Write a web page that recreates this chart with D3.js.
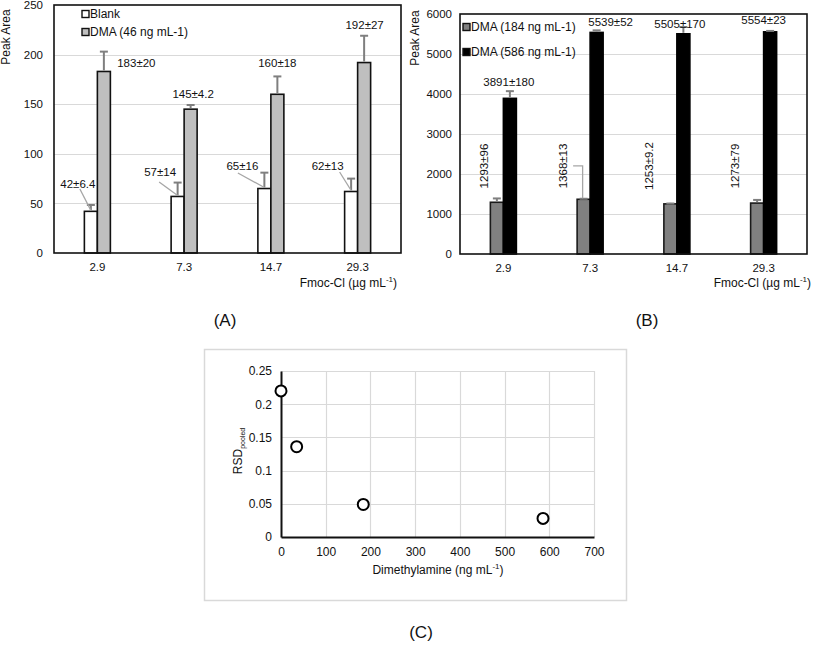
<!DOCTYPE html>
<html><head><meta charset="utf-8">
<script src="https://cdn.jsdelivr.net/npm/d3@7"></script>
<style>
body{margin:0;background:#fff}
svg{display:block}
text{font-family:"Liberation Sans",Arial,Helvetica,sans-serif;fill:#111}
</style>
</head><body>
<svg id="c" width="813" height="645"></svg>
<script>
// ---------------- data ----------------
const categories = ["2.9", "7.3", "14.7", "29.3"];
const blankMean = [42, 57, 65, 62];
const blankErr = [6.4, 14, 16, 13];
const dma46Mean = [183, 145, 160, 192];
const dma46Err = [20, 4.2, 18, 27];
const dma184Mean = [1293, 1368, 1253, 1273];
const dma184Err = [96, 13, 9.2, 79];
const dma586Mean = [3891, 5539, 5505, 5554];
const dma586Err = [180, 52, 170, 23];
const yTicksA = [0, 50, 100, 150, 200, 250];
const yTicksB = [0, 1000, 2000, 3000, 4000, 5000, 6000];
const dmaConc = [0, 35, 184, 586];
const rsdPooled = [0.22, 0.136, 0.049, 0.028];
const xTicksC = [0, 100, 200, 300, 400, 500, 600, 700];
const yTicksC = [0, 0.05, 0.1, 0.15, 0.2, 0.25];
const yTickLabelsC = ["0", "0.05", "0.1", "0.15", "0.2", "0.25"];

// ---------------- layout (label offsets, px) ----------------
const labA = {
  blank: [[-13, -21], [-17.5, -10.6], [-22, -6.6], [-23.5, -12.6]],
  blankLeader: [[2, 5], [-1, 10], [-4.5, 7], [12, 6]],
  dma: [[32.5, 11.4], [2.5, -11], [0, -13], [0.5, -10.7]]
};
const labB = {
  gray: [[-12.5, -32.4], [-20.5, -32.8], [-21.5, -37.5], [-22.5, -33.9]],
  black: [[-1, -8.7], [14, -8.7], [-3.5, -3], [-6.5, -11.4]]
};

const svg = d3.select("#c");
const GRID = "#d9d9d9";
const ERR = "#7f7f7f";

function fmt(m, e) { return m + "\u00b1" + e; }

function barPanel(o) {
  const g = svg.append("g");
  const x = d3.scaleBand().domain(categories).range([o.left, o.right]);
  const y = d3.scaleLinear().domain([0, o.yMax]).range([o.bottom, o.top]);
  const sub = d3.scaleBand().domain(o.series.map((s, i) => i)).range([-o.barW, o.barW]);
  const cx = c => x(c) + x.bandwidth() / 2;

  // grid
  g.selectAll("line.grid").data(o.yTicks.filter(t => t > 0 && t < o.yMax)).join("line")
    .attr("x1", o.left).attr("x2", o.right)
    .attr("y1", d => Math.round(y(d)) + 0.5).attr("y2", d => Math.round(y(d)) + 0.5)
    .attr("stroke", GRID).attr("stroke-width", 1.2);

  // y axis labels
  const ya = g.append("g").attr("transform", `translate(${o.left},0)`)
    .call(d3.axisLeft(y).tickValues(o.yTicks).tickFormat(d3.format("d")).tickSize(0).tickPadding(o.yPad));
  ya.select(".domain").remove();
  ya.attr("font-family", null).attr("font-size", 11.5);
  ya.selectAll("text").attr("fill", "#111");

  // x axis labels
  const xa = g.append("g").attr("transform", `translate(0,${o.bottom})`)
    .call(d3.axisBottom(x).tickSize(0).tickPadding(10));
  xa.select(".domain").remove();
  xa.attr("font-family", null).attr("font-size", 11.5);
  xa.selectAll("text").attr("fill", "#111");

  // bars + error bars
  o.series.forEach((s, si) => {
    const bx = c => cx(c) + sub(si);
    const bc = c => bx(c) + sub.bandwidth() / 2;
    g.selectAll("rect.b" + si).data(categories).join("rect")
      .attr("x", c => bx(c)).attr("width", sub.bandwidth())
      .attr("y", (c, i) => y(s.mean[i])).attr("height", (c, i) => o.bottom - y(s.mean[i]))
      .attr("fill", s.fill).attr("stroke", s.stroke).attr("stroke-width", 1.6);
    g.selectAll("line.e" + si).data(categories).join("line")
      .attr("x1", c => bc(c)).attr("x2", c => bc(c))
      .attr("y1", (c, i) => y(s.mean[i]) - 1).attr("y2", (c, i) => y(s.mean[i] + s.err[i]))
      .attr("stroke", ERR).attr("stroke-width", 2);
    g.selectAll("line.c" + si).data(categories).join("line")
      .attr("x1", c => bc(c) - 4).attr("x2", c => bc(c) + 4)
      .attr("y1", (c, i) => y(s.mean[i] + s.err[i])).attr("y2", (c, i) => y(s.mean[i] + s.err[i]))
      .attr("stroke", ERR).attr("stroke-width", 2);
    // labels
    categories.forEach((c, i) => {
      const [dx, dy] = s.lab[i];
      const lx = bc(c) + dx, ly = y(s.mean[i] + s.err[i]) + dy;
      if (s.leader && s.leader[i]) {
        const L = s.leader[i];
        if (L.type === "elbow") {
          g.append("path")
            .attr("d", `M${lx + L.dx},${ly}H${bc(c) - 1}V${y(s.mean[i]) - 1}`)
            .attr("fill", "none").attr("stroke", "#a6a6a6").attr("stroke-width", 1.3);
        } else {
          g.append("line").attr("x1", lx + L[0]).attr("y1", ly + L[1])
            .attr("x2", bc(c)).attr("y2", y(s.mean[i]) - 1)
            .attr("stroke", "#a6a6a6").attr("stroke-width", 1.3);
        }
      }
      const t = g.append("text").attr("font-size", 11.5)
        .attr("text-anchor", "middle").attr("dominant-baseline", "central")
        .text(fmt(s.mean[i], s.err[i]));
      if (s.rotate) t.attr("transform", `translate(${lx},${ly}) rotate(-90)`);
      else t.attr("x", lx).attr("y", ly);
    });
  });

  // frame
  g.append("rect").attr("x", o.left).attr("y", o.top)
    .attr("width", o.right - o.left).attr("height", o.bottom - o.top)
    .attr("fill", "none").attr("stroke", "#111").attr("stroke-width", 1.6);

  // legend
  o.series.forEach((s, si) => {
    const ly = o.legY[si];
    g.append("rect").attr("x", o.legX).attr("y", ly - 3.5).attr("width", 7).attr("height", 7)
      .attr("fill", s.fill).attr("stroke", "#111").attr("stroke-width", 1.4);
    g.append("text").attr("x", o.legX + 8).attr("y", ly).attr("dominant-baseline", "central")
      .attr("font-size", 12).text(s.name);
  });

  // y title
  g.append("text").attr("transform", `translate(${o.yTitleX},${o.yTitleY}) rotate(-90)`)
    .attr("text-anchor", "middle").attr("font-size", 12).text("Peak Area");
  // x title
  const xt = g.append("text").attr("x", o.xTitleX).attr("y", o.xTitleY)
    .attr("text-anchor", "end").attr("font-size", 12);
  xt.append("tspan").text("Fmoc-Cl (\u00b5g mL");
  xt.append("tspan").attr("font-size", 8).attr("dy", -5).text("-1");
  xt.append("tspan").attr("dy", 5).text(")");
  // panel letter
  svg.append("text").attr("x", o.letterX).attr("y", o.letterY).attr("text-anchor", "middle")
    .attr("dominant-baseline", "central").attr("font-size", 17).text(o.letter);
}

barPanel({
  left: 54, right: 401, top: 5, bottom: 253, yMax: 250, yTicks: yTicksA, yPad: 11, barW: 13,
  series: [
    { name: "Blank", mean: blankMean, err: blankErr, fill: "#ffffff", stroke: "#111", lab: labA.blank, leader: labA.blankLeader },
    { name: "DMA (46 ng mL-1)", mean: dma46Mean, err: dma46Err, fill: "#bfbfbf", stroke: "#111", lab: labA.dma }
  ],
  legX: 82, legY: [14, 32],
  yTitleX: 10, yTitleY: 37, xTitleX: 397, xTitleY: 287,
  letter: "(A)", letterX: 225, letterY: 320
});

barPanel({
  left: 460, right: 807, top: 14, bottom: 254, yMax: 6000, yTicks: yTicksB, yPad: 8, barW: 13,
  series: [
    { name: "DMA (184 ng mL-1)", mean: dma184Mean, err: dma184Err, fill: "#808080", stroke: "#1a1a1a", lab: labB.gray, rotate: true,
      leader: [null, { type: "elbow", dx: 10 }, null, null] },
    { name: "DMA (586 ng mL-1)", mean: dma586Mean, err: dma586Err, fill: "#000000", stroke: "#000", lab: labB.black }
  ],
  legX: 463, legY: [27, 52],
  yTitleX: 419, yTitleY: 38, xTitleX: 811, xTitleY: 287,
  letter: "(B)", letterX: 647, letterY: 320
});

// ---------------- panel C ----------------
(function () {
  const g = svg.append("g");
  g.append("rect").attr("x", 204.5).attr("y", 349.5).attr("width", 422).attr("height", 251)
    .attr("fill", "#fff").attr("stroke", GRID).attr("stroke-width", 1.5);
  const x = d3.scaleLinear().domain([0, 700]).range([281, 594]);
  const y = d3.scaleLinear().domain([0, 0.25]).range([537, 371]);
  g.selectAll("line.vg").data(xTicksC.slice(1)).join("line")
    .attr("x1", d => Math.round(x(d)) + 0.5).attr("x2", d => Math.round(x(d)) + 0.5)
    .attr("y1", y(0.25)).attr("y2", y(0)).attr("stroke", GRID).attr("stroke-width", 1.2);
  g.selectAll("line.hg").data(yTicksC.slice(1)).join("line")
    .attr("y1", d => Math.round(y(d)) + 0.5).attr("y2", d => Math.round(y(d)) + 0.5)
    .attr("x1", x(0)).attr("x2", x(700)).attr("stroke", GRID).attr("stroke-width", 1.2);

  const ya = g.append("g").attr("transform", `translate(${x(0)},0)`)
    .call(d3.axisLeft(y).tickValues(yTicksC).tickFormat((d, i) => yTickLabelsC[i]).tickSize(0).tickPadding(9));
  ya.select(".domain").attr("stroke", "#111").attr("stroke-width", 2);
  ya.attr("font-family", null).attr("font-size", 12);
  ya.selectAll("text").attr("fill", "#111");
  const xa = g.append("g").attr("transform", `translate(0,${y(0)})`)
    .call(d3.axisBottom(x).tickValues(xTicksC).tickSize(0).tickPadding(10));
  xa.select(".domain").attr("stroke", "#111").attr("stroke-width", 2);
  xa.attr("font-family", null).attr("font-size", 12);
  xa.selectAll("text").attr("fill", "#111");

  g.selectAll("circle").data(dmaConc).join("circle")
    .attr("cx", d => x(d)).attr("cy", (d, i) => y(rsdPooled[i])).attr("r", 5.5)
    .attr("fill", "#fff").attr("stroke", "#000").attr("stroke-width", 2);

  const xt = g.append("text").attr("x", 438).attr("y", 574).attr("text-anchor", "middle").attr("font-size", 12);
  xt.append("tspan").text("Dimethylamine (ng mL");
  xt.append("tspan").attr("font-size", 8).attr("dy", -5).text("-1");
  xt.append("tspan").attr("dy", 5).text(")");

  const yt = g.append("text").attr("transform", `translate(242,451) rotate(-90)`)
    .attr("text-anchor", "middle").attr("font-size", 12);
  yt.append("tspan").text("RSD");
  yt.append("tspan").attr("font-size", 7).attr("dy", 3).text("pooled");

  svg.append("text").attr("x", 421).attr("y", 632).attr("text-anchor", "middle")
    .attr("dominant-baseline", "central").attr("font-size", 17).text("(C)");
})();
</script>
</body></html>
